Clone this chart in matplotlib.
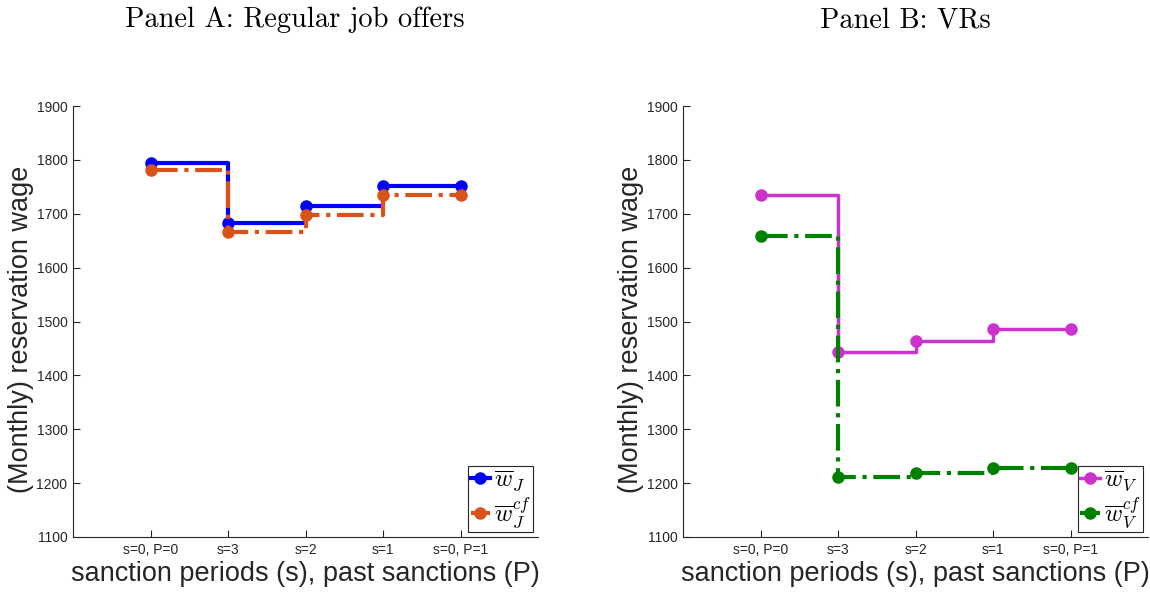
import matplotlib
matplotlib.use("Agg")
import matplotlib.pyplot as plt
import numpy as np

plt.rcParams['mathtext.fontset'] = 'cm'
plt.rcParams['font.family'] = ['Liberation Sans', 'DejaVu Sans']
plt.rcParams['axes.unicode_minus'] = False

# data
categories = ["s=0, P=0", "s=3", "s=2", "s=1", "s=0, P=1"]
w_J = [1794, 1683, 1715, 1751, 1751]
w_J_cf = [1781, 1667, 1698, 1735, 1735]
w_V = [1734, 1443, 1463, 1486, 1486]
w_V_cf = [1659, 1211, 1219, 1228, 1228]
yticks = [1100, 1200, 1300, 1400, 1500, 1600, 1700, 1800, 1900]

axis_col = "#262626"
x = np.arange(1, len(categories) + 1)

fig = plt.figure(figsize=(11.5, 5.94), dpi=100)
ax1 = fig.add_axes([0.0635, 0.096, 0.4045, 0.7255])
ax2 = fig.add_axes([0.594, 0.096, 0.4043, 0.7255])


def style_axes(ax):
    ax.set_xlim(0, 6)
    ax.set_ylim(1100, 1900)
    ax.set_xticks(x)
    ax.set_xticklabels(categories)
    ax.set_yticks(yticks)
    ax.spines['top'].set_visible(False)
    ax.spines['right'].set_visible(False)
    for s in ('left', 'bottom'):
        ax.spines[s].set_color(axis_col)
        ax.spines[s].set_linewidth(0.8)
    ax.tick_params(direction='in', length=5, width=0.8, colors=axis_col,
                   labelsize=10, pad=4)
    ax.set_xlabel("sanction periods (s), past sanctions (P)", fontsize=19.5,
                  color=axis_col, labelpad=3)
    ax.set_ylabel("(Monthly) reservation wage", fontsize=19.5, color=axis_col)
    ax.yaxis.set_label_coords(-0.084, 0.483)


# Panel A
ax1.plot(x, w_J, drawstyle='steps-post', color='blue', lw=3,
         marker='o', ms=8, label=r'$\overline{w}_J$')
ax1.plot(x, w_J_cf, drawstyle='steps-post', color='#D95319', lw=3, ls='-.',
         marker='o', ms=8, label=r'$\overline{w}_J^{cf}$')
style_axes(ax1)
ax1.text(0.477, 1.2, 'Panel A: Regular job offers', family='cmr10',
         transform=ax1.transAxes, ha='center', va='center', fontsize=20.5)

# Panel B
ax2.plot(x, w_V, drawstyle='steps-post', color='#CC33CC', lw=2.5,
         marker='o', ms=8, label=r'$\overline{w}_V$')
ax2.plot(x, w_V_cf, drawstyle='steps-post', color='#008000', lw=3, ls='-.',
         marker='o', ms=8, label=r'$\overline{w}_V^{cf}$')
style_axes(ax2)
ax2.text(0.477, 1.2, 'Panel B: VRs', family='cmr10',
         transform=ax2.transAxes, ha='center', va='center', fontsize=20.5)

for ax in (ax1, ax2):
    leg = ax.legend(loc='lower right', fontsize=17.5, handlelength=0.8,
                    handletextpad=0.15, borderpad=0.1, labelspacing=0.1,
                    fancybox=False, framealpha=1, borderaxespad=0.2)
    leg.get_frame().set_edgecolor(axis_col)
    leg.get_frame().set_linewidth(0.8)

fig.savefig("out.png", dpi=100)
